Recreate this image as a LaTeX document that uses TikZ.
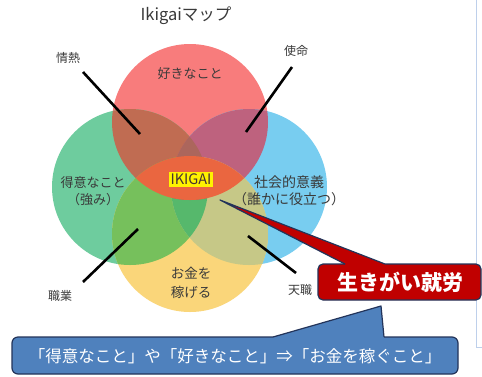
\documentclass[tikz,border=0pt]{standalone}
\usepackage{fontspec}
\setmainfont{Noto Sans CJK JP}
\definecolor{cR}{RGB}{248,124,124}
\definecolor{cG}{RGB}{110,204,158}
\definecolor{cB}{RGB}{120,205,240}
\definecolor{cY}{RGB}{250,214,122}
\definecolor{cRG}{RGB}{192,108,82}
\definecolor{cRB}{RGB}{190,98,126}
\definecolor{cRGB}{RGB}{172,102,92}
\definecolor{cRY}{RGB}{234,102,64}
\definecolor{cGY}{RGB}{118,192,92}
\definecolor{cBY}{RGB}{198,200,135}
\definecolor{cGBY}{RGB}{86,184,108}
\definecolor{txt}{RGB}{58,58,58}
\definecolor{redbox}{RGB}{192,0,0}
\definecolor{bluebox}{RGB}{79,129,189}
\definecolor{navy}{RGB}{35,52,90}
\definecolor{framec}{RGB}{190,208,235}
\newcommand\ikR{(190,122) circle[radius=78pt]}
\newcommand\ikG{(130,187) circle[radius=78pt]}
\newcommand\ikB{(249,187) circle[radius=78pt]}
\newcommand\ikY{(190,234) circle[radius=78pt]}
\tikzset{
  lbl/.style={text=txt, inner sep=0pt, font=\fontsize{13}{15}\selectfont},
  small/.style={text=txt, inner sep=0pt, font=\fontsize{12}{14}\selectfont},
  spoke/.style={line width=2.6pt, black},
  callout/.style={draw=navy, line width=1.2pt, line join=round},
}
\begin{document}
\begin{tikzpicture}[x=1pt,y=-1pt]
\path[use as bounding box, fill=white] (0,0) rectangle (482,376);
% frame line
\draw[framec, line width=1pt] (476,0) -- (476,347) -- (482,347);
% circles
\fill[cR] \ikR; \fill[cG] \ikG; \fill[cB] \ikB; \fill[cY] \ikY;
\begin{scope}\clip \ikR; \fill[cRG] \ikG; \fill[cRB] \ikB; \end{scope}
\begin{scope}\clip \ikY; \fill[cGY] \ikG; \fill[cBY] \ikB; \end{scope}
\begin{scope}\clip \ikG; \clip \ikB; \fill[cGBY] \ikY; \fill[cRGB] \ikR; \end{scope}
\begin{scope}\clip \ikR; \fill[cRY] \ikY; \end{scope}
% title
\node[text=txt, inner sep=0pt, font=\fontsize{16.5}{18}\selectfont] (title) at (186,16) {Ikigaiマップ};
% circle labels
\node[lbl] (like) at (190,74) {好きなこと};
\node[lbl, align=center, font=\fontsize{13}{17}\selectfont] (good) at (93,191) {得意なこと\\（強み）};
\node[lbl, align=center, font=\fontsize{14}{17}\selectfont] (social) at (289,191) {社会的意義\\（誰かに役立つ）};
\node[lbl, align=center, font=\fontsize{13.5}{19}\selectfont] (money) at (191,283) {お金を\\稼げる};
\node[fill=yellow, text={rgb,255:red,70;green,50;blue,50}, inner xsep=2pt, inner ysep=2pt, font=\fontsize{14.5}{16}\selectfont] (ikigai) at (191,179) {IKIGAI};
% corner labels
\node[small] (passion) at (68,58) {情熱};
\node[small] (mission) at (296,51) {使命};
\node[small] (profession) at (60,296) {職業};
\node[small] (vocation) at (300,290) {天職};
% spokes
\coordinate (p1) at (83,72); \coordinate (p2) at (140,134);
\coordinate (m1) at (292,67); \coordinate (m2) at (246,132);
\coordinate (f1) at (138,229); \coordinate (f2) at (83,282);
\coordinate (v1) at (248,236); \coordinate (v2) at (296,273);
\draw[spoke] (p1) -- (p2);
\draw[spoke] (m1) -- (m2);
\draw[spoke] (f1) -- (f2);
\draw[spoke] (v1) -- (v2);
% red callout
\coordinate (rtip) at (220,200);
\coordinate (ra) at (345,264); \coordinate (rb) at (385,264);
\fill[redbox, rounded corners=5pt] (318,264) rectangle (481,300);
\fill[redbox] (ra) -- (rtip) -- (rb) -- cycle;
\draw[callout] (ra) -- (rtip) -- (rb);
\draw[callout, rounded corners=5pt] (rb) -- (481,264) -- (481,300) -- (318,300) -- (318,264) -- (ra);
\node[text=white, inner sep=0pt, font=\bfseries\fontsize{21}{24}\selectfont] (work) at (400,282) {生きがい就労};
% blue callout
\coordinate (btip) at (381,306);
\coordinate (ba) at (273,337); \coordinate (bb) at (384,337);
\fill[bluebox, rounded corners=6pt] (12,337) rectangle (458,374);
\fill[bluebox] (ba) -- (btip) -- (bb) -- cycle;
\draw[callout] (ba) -- (btip) -- (bb);
\draw[callout, rounded corners=6pt] (bb) -- (458,337) -- (458,374) -- (12,374) -- (12,337) -- (ba);
\node[text=white, inner sep=0pt, font=\fontsize{16.5}{19}\selectfont] (note) at (235,356) {「得意なこと」や「好きなこと」⇒「お金を稼ぐこと」};
\end{tikzpicture}
\end{document}
